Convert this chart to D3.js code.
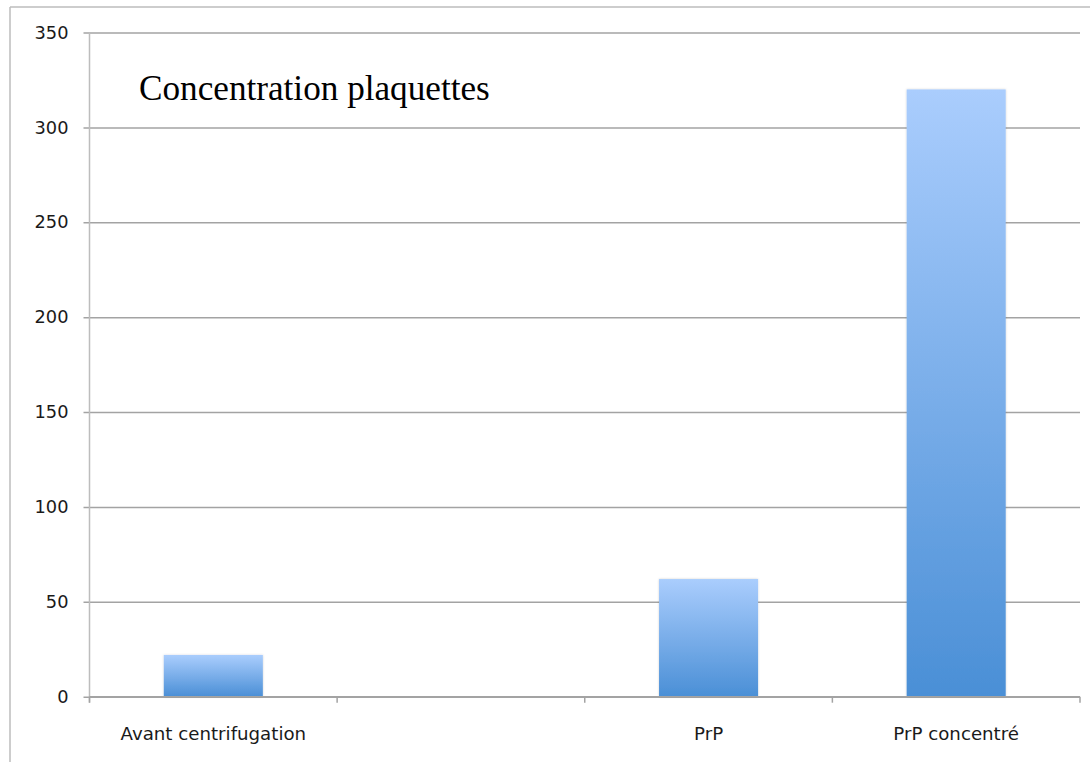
<!DOCTYPE html>
<html>
<head>
<meta charset="utf-8">
<script src="https://cdn.jsdelivr.net/npm/d3@7"></script>
<style>
  html, body { margin: 0; padding: 0; background: #fff; }
  svg { display: block; }
</style>
</head>
<body>
<svg id="chart" width="1090" height="762"></svg>
<script>
const title = "Concentration plaquettes";
const categories = ["Avant centrifugation", "", "PrP", "PrP concentré"];
const values = [22, null, 62, 320];
const yTicks = [0, 50, 100, 150, 200, 250, 300, 350];

(function () {
const svg = d3.select("#chart");
const W = 1090, H = 762;
const mLeft = 89.5, mRight = 1080, mTop = 32.5, mBottom = 696.7;

// outer frame (only left & top edges visible)
svg.append("line").attr("x1", 10).attr("x2", 10).attr("y1", 7).attr("y2", H)
  .attr("stroke", "#bdbdbd").attr("stroke-width", 1.5);
svg.append("line").attr("x1", 10).attr("x2", W).attr("y1", 7).attr("y2", 7)
  .attr("stroke", "#bdbdbd").attr("stroke-width", 1.5);

const y = d3.scaleLinear().domain([0, 350]).range([mBottom, mTop]);
const x = d3.scaleBand().domain(d3.range(categories.length))
  .range([mLeft, mRight]).paddingInner(0.6).paddingOuter(0.3);
const xTicksScale = d3.scaleLinear().domain([0, categories.length]).range([mLeft, mRight]);

const defs = svg.append("defs");
const grad = defs.append("linearGradient").attr("id", "barGrad")
  .attr("x1", 0).attr("y1", 0).attr("x2", 0).attr("y2", 1);
grad.append("stop").attr("offset", "0%").attr("stop-color", "#aacdfd");
grad.append("stop").attr("offset", "100%").attr("stop-color", "#4a8fd6");
const sh = defs.append("filter").attr("id", "shadow").attr("x", "-10%").attr("y", "-10%")
  .attr("width", "120%").attr("height", "120%");
sh.append("feDropShadow").attr("dx", 0).attr("dy", 0).attr("stdDeviation", 1.2)
  .attr("flood-color", "#000").attr("flood-opacity", 0.18);

// y axis with gridlines
const yAxis = d3.axisLeft(y).tickValues(yTicks).tickSize(-(mRight - mLeft)).tickSizeOuter(0).tickPadding(15);
const gy = svg.append("g").attr("transform", `translate(${mLeft},0)`).call(yAxis);
gy.select(".domain").remove();
gy.selectAll(".tick line").attr("stroke", "#a3a3a3").attr("stroke-width", 1.5).attr("x1", -6);
gy.selectAll(".tick text").attr("font-family", "DejaVu Sans, sans-serif")
  .attr("font-size", 17.8).attr("fill", "#1a1a1a").attr("x", -21);

// y axis line
svg.append("line").attr("x1", mLeft).attr("x2", mLeft).attr("y1", mTop).attr("y2", mBottom + 6)
  .attr("stroke", "#bdbdbd").attr("stroke-width", 1.5);

// bars
svg.append("g").selectAll("rect").data(values.map((v, i) => ({ v, i })).filter(d => d.v != null))
  .join("rect")
  .attr("x", d => x(d.i)).attr("width", x.bandwidth())
  .attr("y", d => y(d.v)).attr("height", d => y(0) - y(d.v))
  .attr("fill", "url(#barGrad)").attr("filter", "url(#shadow)");

// x axis
const gx = svg.append("g").attr("transform", `translate(0,${mBottom})`);
gx.append("line").attr("x1", mLeft).attr("x2", mRight).attr("stroke", "#a3a3a3").attr("stroke-width", 1.5);
gx.selectAll("line.tk").data(d3.range(categories.length + 1)).join("line").attr("class", "tk")
  .attr("x1", d => xTicksScale(d)).attr("x2", d => xTicksScale(d))
  .attr("y1", 0).attr("y2", 6).attr("stroke", "#a3a3a3").attr("stroke-width", 1.5);
gx.selectAll("text").data(categories).join("text")
  .attr("x", (d, i) => x(i) + x.bandwidth() / 2).attr("y", 43)
  .attr("text-anchor", "middle")
  .attr("font-family", "DejaVu Sans, sans-serif").attr("font-size", 18.2).attr("fill", "#1a1a1a")
  .text(d => d);

// title
svg.append("text").attr("x", 139).attr("y", 100)
  .attr("font-family", "Liberation Serif, Times New Roman, serif").attr("font-size", 35.2)
  .attr("fill", "#000").text(title);
})();
</script>
</body>
</html>
